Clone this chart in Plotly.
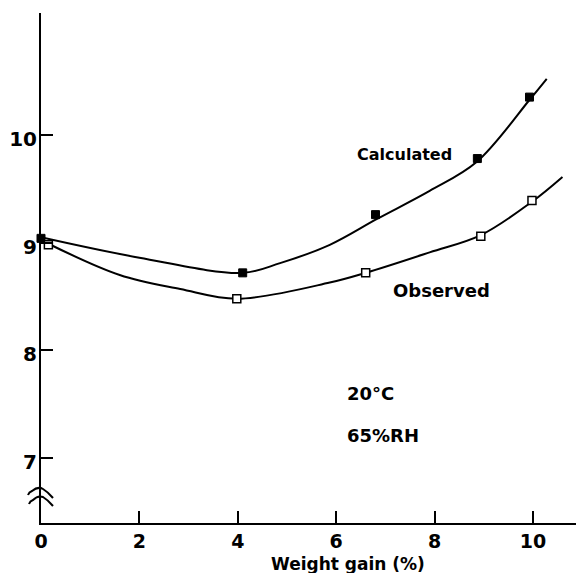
import plotly.graph_objects as go

# Measured points
calc_x = [0.0, 4.1, 6.8, 8.87, 9.93]
calc_y = [9.04, 8.72, 9.26, 9.78, 10.35]
obs_x = [0.15, 3.98, 6.6, 8.94, 9.98]
obs_y = [8.98, 8.48, 8.72, 9.06, 9.39]

# Smoothed trend curves (knots)
calc_curve_x = [0.0, 2.0, 4.1, 4.86, 5.87, 6.83, 7.9, 8.86, 9.94, 10.28]
calc_curve_y = [9.05, 8.86, 8.72, 8.81, 8.98, 9.22, 9.48, 9.75, 10.33, 10.52]
obs_curve_x = [0.15, 1.6, 2.83, 3.98, 5.87, 6.6, 7.9, 8.94, 9.98, 10.6]
obs_curve_y = [8.99, 8.70, 8.57, 8.48, 8.63, 8.72, 8.91, 9.07, 9.38, 9.61]

x_ticks = [0, 2, 4, 6, 8, 10]
y_ticks = [7, 8, 9, 10]

FONT = "DejaVu Sans"

fig = go.Figure()
fig.add_trace(go.Scatter(x=calc_curve_x, y=calc_curve_y, mode="lines",
                         line=dict(color="black", width=2, shape="spline", smoothing=1.0),
                         hoverinfo="skip"))
fig.add_trace(go.Scatter(x=obs_curve_x, y=obs_curve_y, mode="lines",
                         line=dict(color="black", width=2, shape="spline", smoothing=1.0),
                         hoverinfo="skip"))
fig.add_trace(go.Scatter(x=calc_x, y=calc_y, mode="markers", cliponaxis=False,
                         marker=dict(symbol="square", size=8, color="black",
                                     line=dict(color="black", width=1))))
fig.add_trace(go.Scatter(x=obs_x, y=obs_y, mode="markers", cliponaxis=False,
                         marker=dict(symbol="square", size=8, color="white",
                                     line=dict(color="black", width=1.5))))

ann_font = dict(family=FONT, color="black", weight="bold")
fig.add_annotation(x=7.38, y=9.82, text="Calculated", showarrow=False,
                   font=dict(size=16, **ann_font))
fig.add_annotation(x=8.15, y=8.56, text="Observed", showarrow=False,
                   font=dict(size=18, **ann_font))
fig.add_annotation(x=6.18, y=7.60, text="20°C", showarrow=False, xanchor="left",
                   font=dict(size=18, **ann_font))
fig.add_annotation(x=6.18, y=7.21, text="65%RH", showarrow=False, xanchor="left",
                   font=dict(size=18, **ann_font))
fig.add_annotation(x=6.24, y=-0.08, xref="x", yref="paper", text="Weight gain (%)",
                   showarrow=False, yanchor="middle",
                   font=dict(size=17, **ann_font))

# Axis break mark on the y axis
brk = dict(type="path", xref="paper", yref="paper", xsizemode="pixel", ysizemode="pixel",
           xanchor=0, yanchor=0.0549, line=dict(color="black", width=2))
fig.add_shape(path="M -13,0 Q -12,3 -9,4 Q -3,9 2,6 Q 7,3 12,-3", **brk)
fig.add_shape(path="M -12,-9 Q -11,-6 -8,-5 Q -3,0 2,-2 Q 7,-5 12,-11", **brk)

fig.update_layout(
    width=576, height=573,
    margin=dict(l=41, r=0, t=13, b=50),
    paper_bgcolor="white", plot_bgcolor="white",
    showlegend=False,
)
fig.update_xaxes(range=[0, 10.875], tickvals=x_ticks, ticktext=[str(v) for v in x_ticks],
                 showgrid=False, zeroline=False, showline=True, linecolor="black", linewidth=2,
                 ticks="inside", ticklen=12, tickwidth=2, tickcolor="black",
                 ticklabelstandoff=0,
                 tickfont=dict(family=FONT, size=19, color="black", weight="bold"))
fig.update_yaxes(range=[6.40, 11.13], tickvals=y_ticks, ticktext=[str(v) for v in y_ticks],
                 showgrid=False, zeroline=False, showline=True, linecolor="black", linewidth=2,
                 ticks="inside", ticklen=12, tickwidth=2, tickcolor="black",
                 ticklabelshift=4, ticklabelstandoff=-2,
                 tickfont=dict(family=FONT, size=20, color="black", weight="bold"))

fig.write_html("out.html")
